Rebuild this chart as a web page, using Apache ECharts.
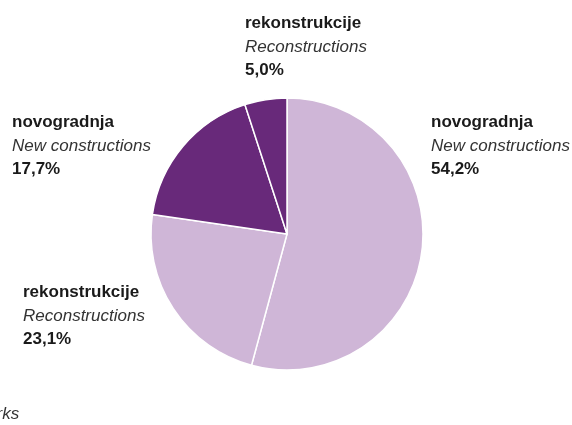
<!DOCTYPE html>
<html>
<head>
<meta charset="utf-8">
<script src="https://cdn.jsdelivr.net/npm/echarts@6/dist/echarts.min.js"></script>
<style>
  html, body { margin: 0; padding: 0; background: #fff; }
  #chart { width: 572px; height: 425px; }
</style>
</head>
<body>
<div id="chart"></div>
<script>
// podaci
var namesHr = ["novogradnja", "rekonstrukcije", "novogradnja", "rekonstrukcije"];
var namesEn = ["New constructions", "Reconstructions", "New constructions", "Reconstructions"];
var shares = [54.2, 23.1, 17.7, 5.0];
var colors = ["#cfb6d7", "#cfb6d7", "#68297a", "#68297a"];

// gdje stoje natpisi (gornji lijevi kut)
var labelPos = [[431, 111], [23, 281], [12, 111], [245, 12]];

var chart = echarts.init(document.getElementById("chart"));
chart.setOption({
  animation: false,
  textStyle: { fontFamily: "Liberation Sans" },
  graphic: [
    {
      type: "text",
      left: -29,
      top: 406,
      style: {
        text: "Works",
        font: "italic 17px 'Liberation Sans'",
        fill: "#333"
      }
    }
  ],
  series: [
    {
      type: "pie",
      center: [287, 234],
      radius: [0, 136],
      startAngle: 90,
      clockwise: true,
      data: shares.map(function (v, i) {
        return {
          name: namesHr[i],
          value: v,
          itemStyle: { color: colors[i] }
        };
      }),
      itemStyle: { borderColor: "#fff", borderWidth: 1.5 },
      labelLine: { show: false },
      label: {
        show: true,
        position: "outside",
        overflow: "none",
        fontSize: 17,
        fontFamily: "Liberation Sans",
        formatter: function (p) {
          return "{a|" + namesHr[p.dataIndex] + "}\n{b|" + namesEn[p.dataIndex] +
            "}\n{a|" + shares[p.dataIndex].toFixed(1).replace(".", ",") + "%}";
        },
        rich: {
          a: { fontFamily: "Liberation Sans", fontWeight: "bold", fontSize: 17, color: "#1a1a1a", lineHeight: 23.5 },
          b: { fontFamily: "Liberation Sans", fontStyle: "italic", fontSize: 17, color: "#333", lineHeight: 23.5 }
        }
      },
      labelLayout: function (params) {
        var p = labelPos[params.dataIndex];
        return { x: p[0], y: p[1], align: "left", verticalAlign: "top", width: 200 };
      },
      emphasis: { disabled: true }
    }
  ]
});
</script>
</body>
</html>
